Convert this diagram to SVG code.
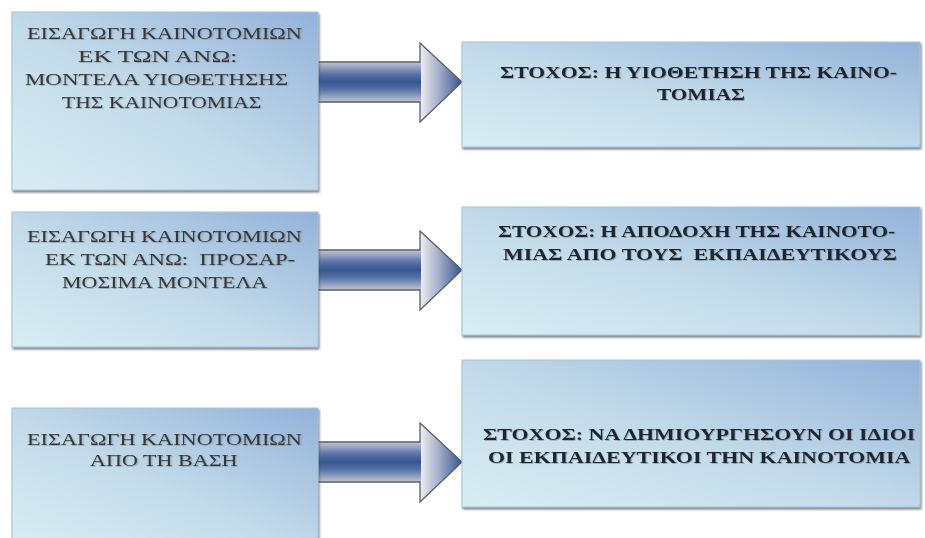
<svg xmlns="http://www.w3.org/2000/svg" xmlns:xlink="http://www.w3.org/1999/xlink" width="925" height="538" viewBox="0 0 925 538">
<defs>
  <linearGradient id="boxGrad" x1="0" y1="1" x2="1" y2="0">
    <stop offset="0" stop-color="#d8eef4"/>
    <stop offset="0.45" stop-color="#c4dcea"/>
    <stop offset="1" stop-color="#93b2da"/>
  </linearGradient>
  <linearGradient id="shaftGrad" x1="0" y1="0" x2="0" y2="1">
    <stop offset="0" stop-color="#c4c6d4"/>
    <stop offset="0.3" stop-color="#5a74a8"/>
    <stop offset="0.5" stop-color="#34558f"/>
    <stop offset="0.7" stop-color="#5a74a8"/>
    <stop offset="1" stop-color="#c4c6d4"/>
  </linearGradient>
  <linearGradient id="headGrad" x1="0" y1="0" x2="1" y2="0">
    <stop offset="0" stop-color="#eeeef4"/>
    <stop offset="0.45" stop-color="#a3aec9"/>
    <stop offset="1" stop-color="#375490"/>
  </linearGradient>
  <filter id="shadow" x="-5%" y="-5%" width="110%" height="115%">
    <feDropShadow dx="1" dy="2" stdDeviation="1.2" flood-color="#4a5560" flood-opacity="0.75"/>
  </filter>
  <filter id="tshadow" x="-5%" y="-20%" width="110%" height="150%">
    <feDropShadow dx="0.8" dy="0.8" stdDeviation="0.7" flood-color="#555" flood-opacity="0.45"/>
  </filter>
  <g id="arrow">
    <polygon points="420,43 462,82 420,122" fill="url(#headGrad)"/>
    <rect x="318" y="62" width="103" height="40" fill="url(#shaftGrad)"/>
    <path d="M318,62 H420 V43 L462,82 L420,122 V102 H318" fill="none" stroke="#5a5e68" stroke-width="1.3" stroke-linejoin="miter"/>
  </g>
</defs>
<style>
  .box { fill: url(#boxGrad); stroke: #a9c3d8; stroke-width: 1; filter: url(#shadow); }
  .lt { font-family: "Liberation Serif", "DejaVu Serif", serif; font-size: 16px; fill: #383838; filter: url(#tshadow); }
  .rt { font-family: "Liberation Serif", "DejaVu Serif", serif; font-size: 16.5px; font-weight: bold; fill: #1e2630; filter: url(#tshadow); }
</style>
<rect width="925" height="538" fill="#ffffff"/>

<g id="connectors">
  <use xlink:href="#arrow" href="#arrow"/>
  <use xlink:href="#arrow" href="#arrow" transform="translate(0,188)"/>
  <use xlink:href="#arrow" href="#arrow" transform="translate(0,380)"/>
</g>

<g id="left1">
  <rect class="box" x="12" y="12" width="306" height="178"/>
  <text class="lt" transform="translate(27,39) scale(1.18,1)" textLength="233" lengthAdjust="spacingAndGlyphs">ΕΙΣΑΓΩΓΗ ΚΑΙΝΟΤΟΜΙΩΝ</text>
  <text class="lt" transform="translate(78,62) scale(1.18,1)" textLength="135" lengthAdjust="spacingAndGlyphs">ΕΚ ΤΩΝ ΑΝΩ:</text>
  <text class="lt" transform="translate(25,85) scale(1.18,1)" textLength="223" lengthAdjust="spacingAndGlyphs">ΜΟΝΤΕΛΑ ΥΙΟΘΕΤΗΣΗΣ</text>
  <text class="lt" transform="translate(62,108) scale(1.18,1)" textLength="169" lengthAdjust="spacingAndGlyphs">ΤΗΣ ΚΑΙΝΟΤΟΜΙΑΣ</text>
</g>

<g id="left2">
  <rect class="box" x="12" y="212" width="306" height="135"/>
  <text class="lt" transform="translate(27,242) scale(1.18,1)" textLength="233" lengthAdjust="spacingAndGlyphs">ΕΙΣΑΓΩΓΗ ΚΑΙΝΟΤΟΜΙΩΝ</text>
  <text class="lt" transform="translate(45,265) scale(1.18,1)" textLength="212" lengthAdjust="spacingAndGlyphs" xml:space="preserve">ΕΚ ΤΩΝ ΑΝΩ:  ΠΡΟΣΑΡ-</text>
  <text class="lt" transform="translate(62,288) scale(1.18,1)" textLength="174" lengthAdjust="spacingAndGlyphs">ΜΟΣΙΜΑ ΜΟΝΤΕΛΑ</text>
</g>

<g id="left3">
  <rect class="box" x="12" y="408" width="306" height="140"/>
  <text class="lt" transform="translate(27,445) scale(1.18,1)" textLength="233" lengthAdjust="spacingAndGlyphs">ΕΙΣΑΓΩΓΗ ΚΑΙΝΟΤΟΜΙΩΝ</text>
  <text class="lt" transform="translate(90,466) scale(1.18,1)" textLength="125" lengthAdjust="spacingAndGlyphs">ΑΠΟ ΤΗ ΒΑΣΗ</text>
</g>

<g id="right1">
  <rect class="box" x="462" y="42" width="458" height="105"/>
  <text class="rt" transform="translate(500,78) scale(1.1,1)" textLength="361" lengthAdjust="spacingAndGlyphs">ΣΤΟΧΟΣ: Η ΥΙΟΘΕΤΗΣΗ ΤΗΣ ΚΑΙΝΟ-</text>
  <text class="rt" transform="translate(657,100) scale(1.1,1)" textLength="80" lengthAdjust="spacingAndGlyphs">ΤΟΜΙΑΣ</text>
</g>

<g id="right2">
  <rect class="box" x="462" y="207" width="458" height="128"/>
  <text class="rt" transform="translate(498,237) scale(1.1,1)" textLength="361" lengthAdjust="spacingAndGlyphs">ΣΤΟΧΟΣ: Η ΑΠΟΔΟΧΗ ΤΗΣ ΚΑΙΝΟΤΟ-</text>
  <text class="rt" transform="translate(503,260) scale(1.1,1)" textLength="358" lengthAdjust="spacingAndGlyphs" xml:space="preserve">ΜΙΑΣ ΑΠΟ ΤΟΥΣ  ΕΚΠΑΙΔΕΥΤΙΚΟΥΣ</text>
</g>

<g id="right3">
  <rect class="box" x="462" y="360" width="458" height="147"/>
  <text class="rt" transform="translate(483,440) scale(1.1,1)" textLength="393" lengthAdjust="spacingAndGlyphs">ΣΤΟΧΟΣ: ΝΑ ΔΗΜΙΟΥΡΓΗΣΟΥΝ ΟΙ ΙΔΙΟΙ</text>
  <text class="rt" transform="translate(488,463) scale(1.1,1)" textLength="384" lengthAdjust="spacingAndGlyphs">ΟΙ ΕΚΠΑΙΔΕΥΤΙΚΟΙ ΤΗΝ ΚΑΙΝΟΤΟΜΙΑ</text>
</g>
</svg>
